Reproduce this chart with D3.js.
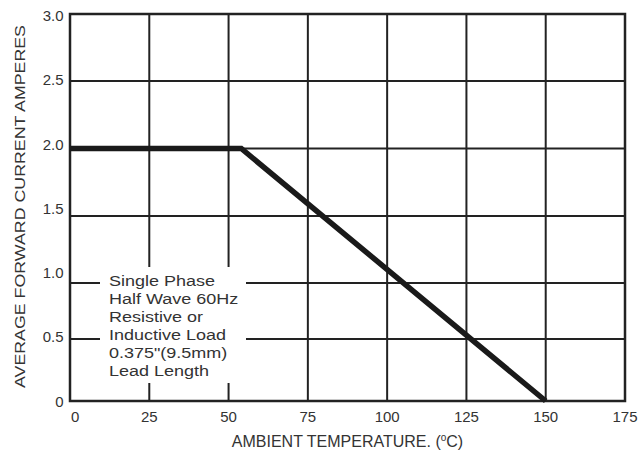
<!DOCTYPE html>
<html><head><meta charset="utf-8">
<script src="https://cdn.jsdelivr.net/npm/d3@7"></script>
<style>body{margin:0;background:#fff}svg{display:block}text{font-family:"Liberation Sans",Arial,sans-serif;fill:#333}</style>
</head><body><svg id="c" width="639" height="450"></svg>
<script>
const xTicks=[0,25,50,75,100,125,150,175];
const yTicks=[0,0.5,1.0,1.5,2.0,2.5,3.0];
const yTickLabels=["0","0.5","1.0","1.5","2.0","2.5","3.0"];
const tempC=[0,54,150];
const current=[2.0,2.0,0];
const noteLines=["Single Phase","Half Wave 60Hz","Resistive or","Inductive Load","0.375\"(9.5mm)","Lead Length"];

const svg=d3.select("#c");
const x=d3.scaleLinear().domain([0,175]).range([70,625]);
// gridlines of the scanned original are slightly uneven
const y=d3.scaleLinear().domain([0,0.5,1,1.5,2,2.5,3]).range([401,339,283,216,148.5,81,14]);
const yLab=d3.scaleLinear().domain([0,3]).range([401,15.5]);
const g=svg.append("g");
// grid
g.selectAll(".vg").data(xTicks).enter().append("line")
 .attr("x1",d=>x(d)).attr("x2",d=>x(d)).attr("y1",y(0)).attr("y2",y(3))
 .attr("stroke","#222").attr("stroke-width",2);
g.selectAll(".hg").data(yTicks).enter().append("line")
 .attr("x1",x(0)).attr("x2",x(175)).attr("y1",d=>y(d)).attr("y2",d=>y(d))
 .attr("stroke","#222").attr("stroke-width",2);
// frame
g.append("rect").attr("x",x(0)).attr("y",y(3)).attr("width",x(175)-x(0)).attr("height",y(0)-y(3))
 .attr("fill","none").attr("stroke","#222").attr("stroke-width",2.5);
// note box
g.append("rect").attr("x",100).attr("y",267).attr("width",146).attr("height",116).attr("fill","#fff");
const nt=g.append("text").attr("transform","translate(109,0) scale(1.2,1)").style("font-size","15px");
noteLines.forEach((t,i)=>nt.append("tspan").attr("x",0).attr("y",286.5+i*17.9).text(t));
// curve
const line=d3.line().x((d,i)=>x(tempC[i])).y((d,i)=>y(current[i]));
g.append("path").datum(tempC).attr("d",line).attr("fill","none").attr("stroke","#1a1a1a").attr("stroke-width",5.5).attr("stroke-linejoin","miter");
// tick labels
g.selectAll(".yl").data(yTicks).enter().append("text")
 .attr("x",63.5).attr("y",d=>yLab(d)+5.5).attr("text-anchor","end").style("font-size","15px").text((d,i)=>yTickLabels[i]);
g.selectAll(".xl").data(xTicks).enter().append("text")
 .attr("x",d=>d===0?x(d)+1:x(d)).attr("y",422).attr("text-anchor",d=>d===0?"start":"middle").style("font-size","15px").text(d=>d);
// titles
const xt=g.append("text").attr("x",347.5).attr("y",447).attr("text-anchor","middle").style("font-size","16px");
xt.append("tspan").text("AMBIENT TEMPERATURE. (");
xt.append("tspan").attr("dy",-6).style("font-size","10px").text("o");
xt.append("tspan").attr("dy",6).text("C)");
g.append("text").attr("transform","translate(25,206.5) rotate(-90)").attr("text-anchor","middle").style("font-size","15px")
 .attr("textLength",363).attr("lengthAdjust","spacingAndGlyphs").text("AVERAGE FORWARD CURRENT AMPERES");
</script></body></html>
